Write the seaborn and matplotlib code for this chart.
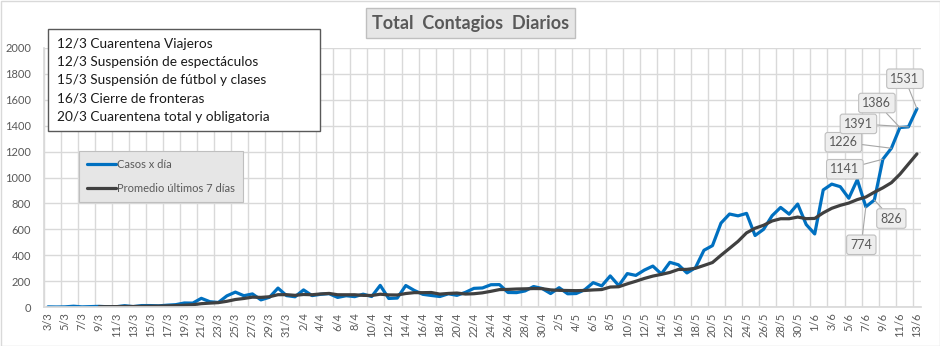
import numpy as np
import pandas as pd
import matplotlib
matplotlib.use("Agg")
import matplotlib.pyplot as plt
from matplotlib.patches import Rectangle
from matplotlib.ticker import FixedLocator, MultipleLocator
import seaborn as sns

# Casos confirmados por día (3/3 al 13/6)
casos_marzo = [1, 0, 1, 6, 1, 3, 5, 2, 2, 10, 3, 11, 11, 9, 14, 18, 31, 30, 67,
               41, 35, 86, 115, 87, 101, 55, 75, 146, 88]
casos_abril = [79, 132, 88, 98, 103, 74, 87, 80, 99, 81, 167, 66, 69, 166, 128,
               98, 89, 81, 102, 90, 113, 144, 147, 172, 173, 112, 111, 124, 158, 143]
casos_mayo = [104, 149, 102, 104, 133, 188, 163, 240, 165, 258, 244, 285, 316,
              255, 345, 326, 263, 303, 438, 474, 648, 718, 704, 723, 552, 600,
              705, 769, 717, 795, 637]
casos_junio = [564, 904, 949, 929, 840, 983, 774, 826, 1141, 1226, 1386, 1391, 1531]

fechas = pd.date_range("2020-03-03", "2020-06-13", freq="D")
etiquetas = [f"{d.day}/{d.month}" for d in fechas]

# Días con el valor rotulado
dias_rotulados = ["7/6", "8/6", "9/6", "10/6", "11/6", "12/6", "13/6"]

eventos = [
    "12/3 Cuarentena Viajeros",
    "12/3 Suspensión de espectáculos",
    "15/3 Suspensión de fútbol y clases",
    "16/3 Cierre de fronteras",
    "20/3 Cuarentena total y obligatoria",
]

titulo = "Total  Contagios  Diarios"
serie_casos = "Casos x día"
serie_prom = "Promedio últimos 7 días"

casos = casos_marzo + casos_abril + casos_mayo + casos_junio
df = pd.DataFrame({"dia": np.arange(len(casos)), serie_casos: casos})
df[serie_prom] = df[serie_casos].rolling(7).mean()

sns.set_theme(style="white")
plt.rcParams["font.family"] = ["Lato", "DejaVu Sans"]

W, H = 940, 346
fig = plt.figure(figsize=(W / 100, H / 100), dpi=100)
ax = fig.add_axes([43.7 / W, 1 - 307 / H, (921.2 - 43.7) / W, (307 - 48) / H])

azul = "#0070C0"
gris_osc = "#404040"
txt_gris = "#595959"
grid_c = "#d9d9d9"

sns.lineplot(data=df, x="dia", y=serie_casos, ax=ax, color=azul, lw=2.3,
             label=serie_casos, solid_joinstyle="round", solid_capstyle="round")
sns.lineplot(data=df, x="dia", y=serie_prom, ax=ax, color=gris_osc, lw=2.3,
             label=serie_prom, solid_joinstyle="round", solid_capstyle="round")

n = len(casos)
ax.set_xlim(-0.5, n - 0.5)
ax.set_ylim(0, 2000)
ax.yaxis.set_major_locator(MultipleLocator(200))
ax.set_xticks(np.arange(0, n, 2))
ax.set_xticklabels(etiquetas[::2], rotation=90)
ax.xaxis.set_minor_locator(FixedLocator(np.arange(-0.5, n, 2)))
ax.set_xlabel("")
ax.set_ylabel("")

ax.grid(True, axis="y", which="major", color=grid_c, lw=1)
ax.grid(True, axis="x", which="minor", color=grid_c, lw=1)
ax.grid(False, axis="x", which="major")
ax.set_axisbelow(True)
for s in ["top", "right"]:
    ax.spines[s].set_visible(False)
ax.spines["left"].set_color(grid_c)
ax.spines["bottom"].set_color(grid_c)
ax.tick_params(axis="both", which="both", length=0, colors=txt_gris, labelsize=8)
ax.tick_params(axis="y", pad=9)
ax.tick_params(axis="x", pad=4)

# Rótulos de valores al final de la serie
desplaz = [(-4.5, -38), (17, -18.5), (-38, -10), (-48, 6), (-23, 24.5), (-50, 3), (-12, 30)]
for dia, (dx, dy) in zip(dias_rotulados, desplaz):
    i = etiquetas.index(dia)
    v = casos[i]
    ax.annotate(f"{v}", xy=(i, v), xytext=(dx, dy), textcoords="offset pixels",
                ha="center", va="center", fontsize=9, color=txt_gris,
                bbox=dict(boxstyle="round,pad=0.3,rounding_size=0.2",
                          fc="#eeeeee", ec="#bfbfbf", lw=0.8),
                arrowprops=dict(arrowstyle="-", color="#a6a6a6", lw=0.8,
                                shrinkA=0, shrinkB=0))

leg = ax.legend(loc="upper left", bbox_to_anchor=(79 / W, 1 - 151 / H),
                bbox_transform=fig.transFigure, borderaxespad=0,
                fontsize=8, handlelength=2.6, handletextpad=0.15,
                labelspacing=1.2, borderpad=0.7, fancybox=False,
                frameon=True, facecolor="#e6e6e6", edgecolor="#bfbfbf", framealpha=1)
for t in leg.get_texts():
    t.set_color(txt_gris)
leg.get_frame().set_linewidth(0.8)

# Recuadro de medidas
fig.patches.append(Rectangle((48 / W, 1 - 131 / H), 272 / W, 102 / H,
                             transform=fig.transFigure, fill=True, fc="white",
                             ec="#595959", lw=1, zorder=5))
for k, ev in enumerate(eventos):
    fig.text(57 / W, 1 - (44 + 18.2 * k) / H, ev, ha="left", va="center",
             fontsize=9.8, color="#1a1a1a", zorder=6)

fig.text(470.5 / W, 1 - 23 / H, titulo, ha="center", va="center",
         fontsize=13, fontweight="bold", color=txt_gris,
         bbox=dict(boxstyle="square,pad=0.35", fc="#e6e6e6", ec="#bfbfbf", lw=1))

fig.patches.append(Rectangle((0.5 / W, 0.5 / H), (W - 1) / W, (H - 1) / H,
                             transform=fig.transFigure, fill=False,
                             ec="#d9d9d9", lw=1))

fig.savefig("out.png", dpi=100)
